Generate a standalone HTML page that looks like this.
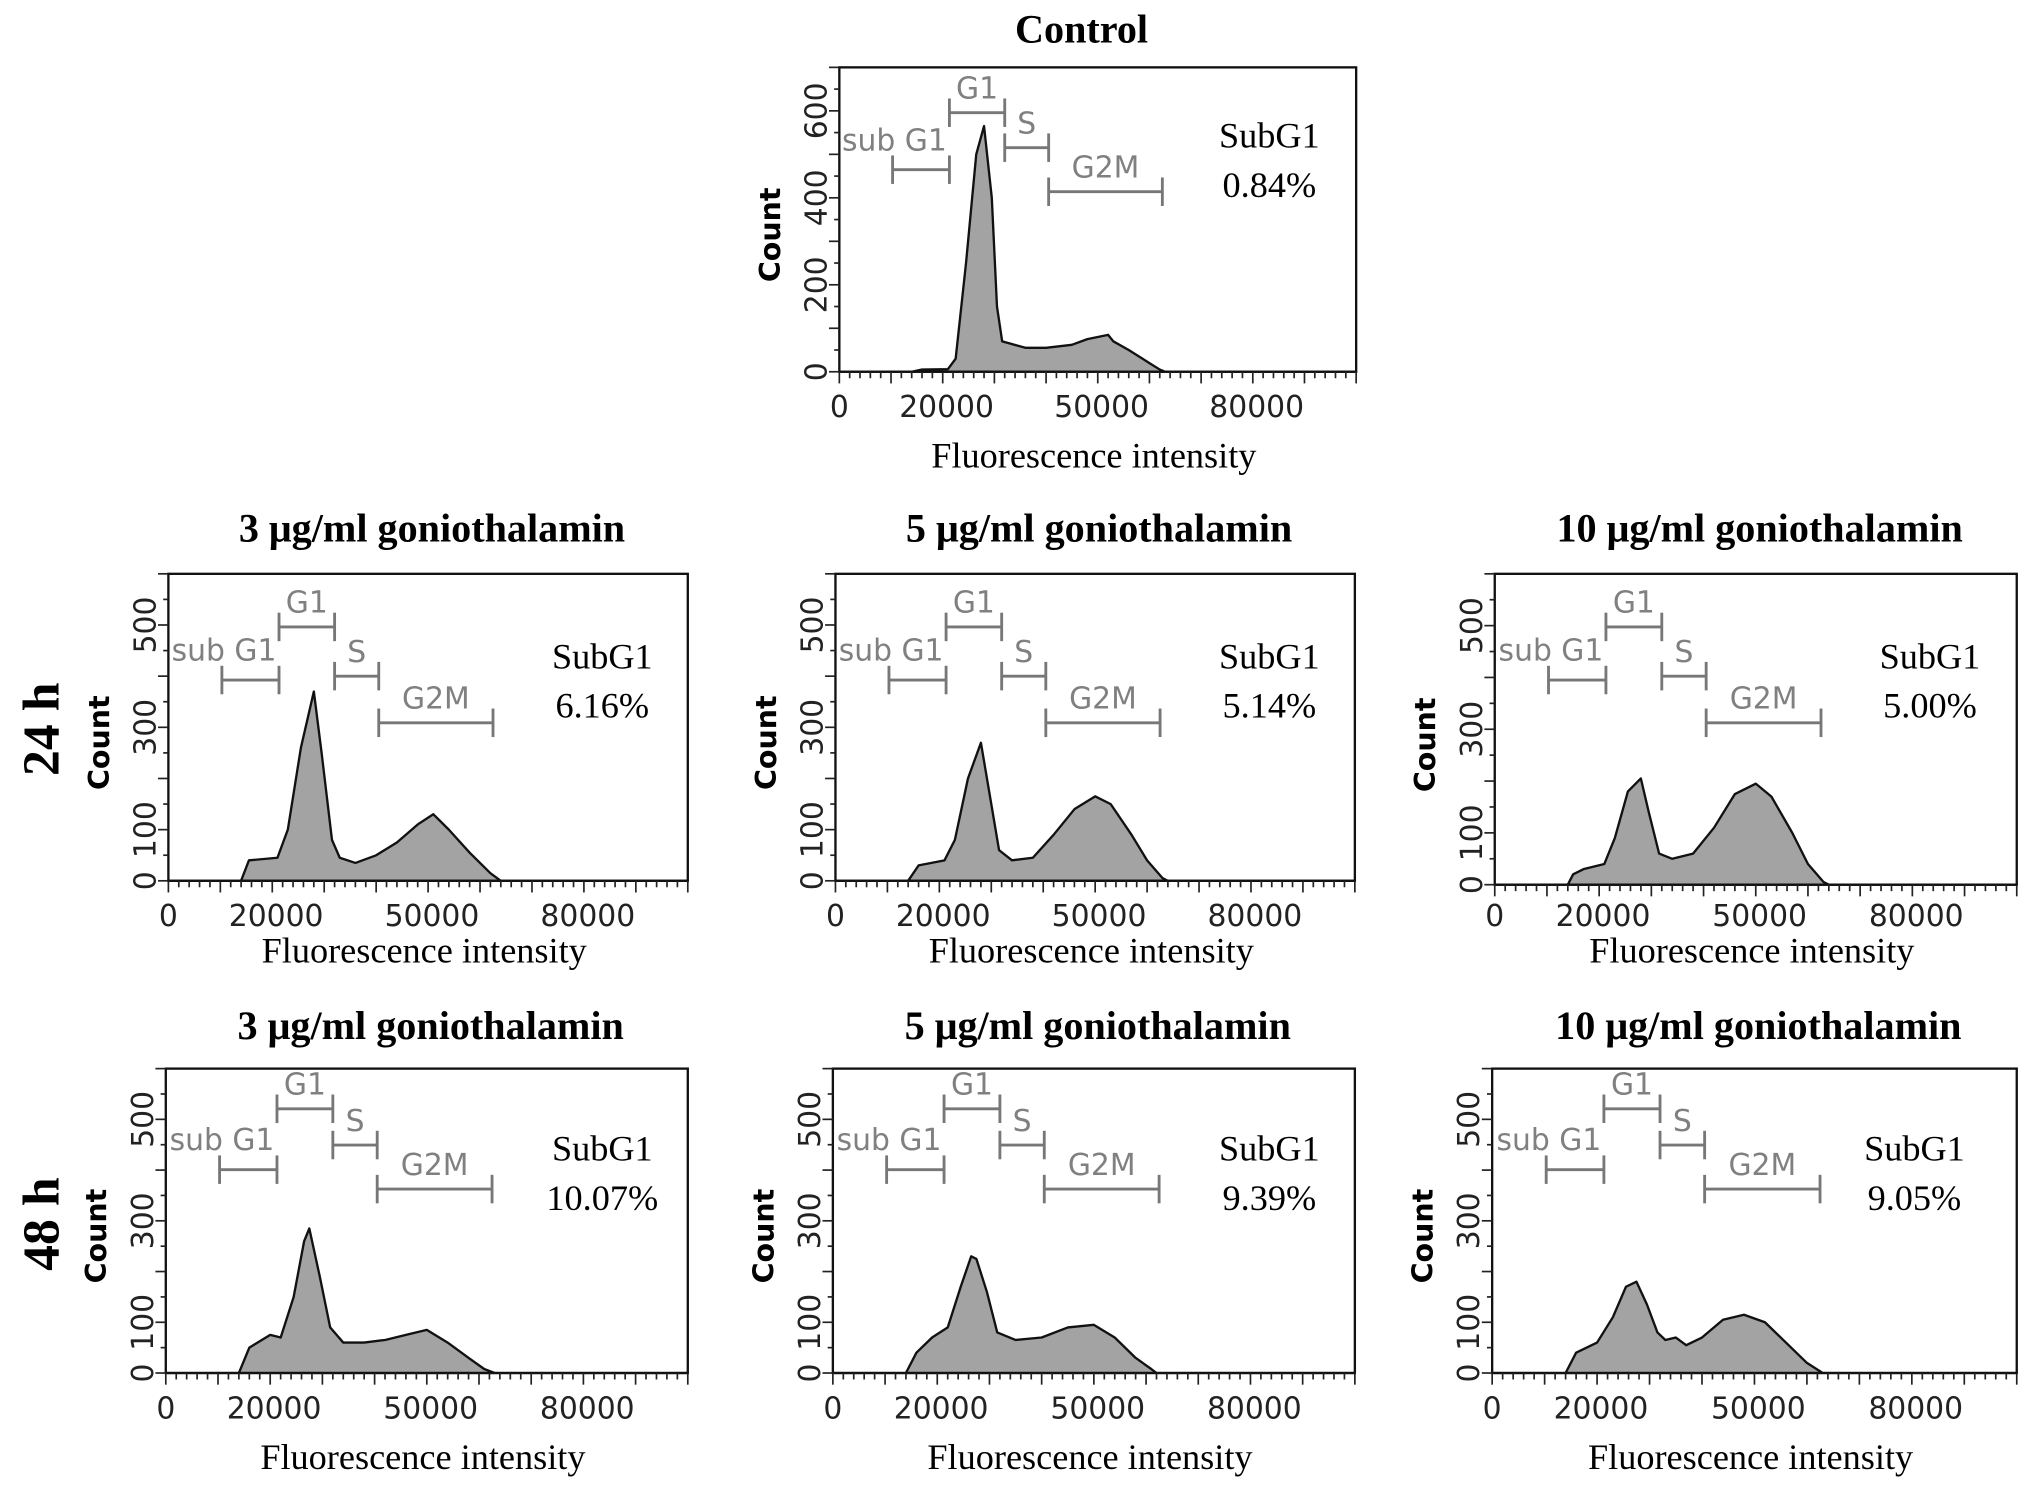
<!DOCTYPE html>
<html><head><meta charset="utf-8"><style>
html,body{margin:0;padding:0;background:#fff;}
svg{display:block;}
.ser{font-family:"Liberation Serif",serif;}
.san{font-family:"DejaVu Sans","Liberation Sans",sans-serif;}
</style></head><body>
<svg id="fig" width="2031" height="1494" viewBox="0 0 1568 1153.4" xmlns="http://www.w3.org/2000/svg">
<text class="ser" x="835" y="33" font-size="31" font-weight="bold" text-anchor="middle">Control</text>
<text class="ser" x="45" y="563" font-size="40" font-weight="bold" text-anchor="middle" transform="rotate(-90 45 563)">24 h</text>
<text class="ser" x="45" y="945" font-size="40" font-weight="bold" text-anchor="middle" transform="rotate(-90 45 945)">48 h</text>
</svg>
<script>
// ---- data (x in thousands of fluorescence units, y counts) ----
const panelTitles = ["", "3 μg/ml goniothalamin", "5 μg/ml goniothalamin", "10 μg/ml goniothalamin", "3 μg/ml goniothalamin", "5 μg/ml goniothalamin", "10 μg/ml goniothalamin"];
const subG1Values = ["0.84%", "6.16%", "5.14%", "5.00%", "10.07%", "9.39%", "9.05%"];
const xTickLabels = [0, 20000, 50000, 80000];
const yTicksControl = [0, 200, 400, 600];
const yTicksRows = [0, 100, 300, 500];
const gateNames = ["sub G1", "G1", "S", "G2M"];
const gateStarts = [10.3, 21.3, 32.0, 40.5];
const gateEnds = [21.3, 32.0, 40.5, 62.5];
const xs0 = [0,14,16,21,22.5,24.5,26.5,28,29.5,30.5,31.5,33,36,40,45,48,52,53,56,60,62,63,100];
const ys0 = [0,0,5,6,30,250,500,565,400,150,70,65,55,55,62,75,85,70,50,20,5,0,0];
const xs1 = [0,14,15.5,21,23,25.5,28,29.5,31.5,33,36,40,44,48,51,54,58,62,64,100];
const ys1 = [0,0,40,45,100,260,370,250,80,45,35,50,75,110,130,100,55,15,0,0];
const xs2 = [0,14,16,21,23,25.5,28,29.5,31.5,34,38,42,46,50,53,57,60,63,64,100];
const ys2 = [0,0,30,40,80,200,270,180,60,40,45,90,140,165,150,90,40,5,0,0];
const xs3 = [0,14,15,17,21,23,25.5,28,29.5,31.5,34,38,42,46,50,53,57,60,63,64,100];
const ys3 = [0,0,20,30,40,90,180,205,140,60,50,60,110,175,195,170,100,40,5,0,0];
const xs4 = [0,14,16,20,22,24.5,26.5,27.5,29.5,31.5,34,38,42,46,50,54,58,61,63,100];
const ys4 = [0,0,50,75,70,150,260,285,190,90,60,60,65,75,85,60,30,8,0,0];
const xs5 = [0,14,16,19,22,24.5,26.5,27.5,29.5,31.5,35,40,45,50,54,58,61,62,100];
const ys5 = [0,0,40,70,90,170,230,225,160,80,65,70,90,95,70,30,8,0,0];
const xs6 = [0,14,16,20,23,25.5,27.5,29.5,31.5,33,35,37,40,44,48,52,56,60,63,100];
const ys6 = [0,0,40,60,110,170,180,135,80,65,70,55,70,105,115,100,60,20,0,0];
const allXs = [xs0,xs1,xs2,xs3,xs4,xs5,xs6];
const allYs = [ys0,ys1,ys2,ys3,ys4,ys5,ys6];

// ---- layout ----
const frames = [
 {x:648,y:52,w:399,h:235,ymax:700,ticks:yTicksControl,gy:[79,35,62,96],title:0,sub:[980,114],lab:322,xl:361},
 {x:130,y:443,w:401,h:237,ymax:600,ticks:yTicksRows,gy:[82,41,79,115],title:418,sub:[465,516],lab:715,xl:743},
 {x:645,y:443,w:401,h:237,ymax:600,ticks:yTicksRows,gy:[82,41,79,115],title:418,sub:[980,516],lab:715,xl:743},
 {x:1154,y:443,w:403,h:240,ymax:600,ticks:yTicksRows,gy:[82,41,79,115],title:418,sub:[1490,516],lab:715,xl:743},
 {x:128,y:825,w:403,h:235,ymax:600,ticks:yTicksRows,gy:[78,31,59,93],title:802,sub:[465,896],lab:1095,xl:1134},
 {x:643,y:825,w:403,h:235,ymax:600,ticks:yTicksRows,gy:[78,31,59,93],title:802,sub:[980,896],lab:1095,xl:1134},
 {x:1152,y:825,w:405,h:235,ymax:600,ticks:yTicksRows,gy:[78,31,59,93],title:802,sub:[1478,896],lab:1095,xl:1134}
];
const NS="http://www.w3.org/2000/svg";
const svg=document.getElementById('fig');
function mk(tag,attrs,parent,text){const e=document.createElementNS(NS,tag);for(const k in attrs)e.setAttribute(k,attrs[k]);if(text!==undefined)e.textContent=text;(parent||svg).appendChild(e);return e;}

frames.forEach((f,i)=>{
  const g=mk('g',{});
  
  
  const sx=v=>f.x+v/100*f.w;
  const sy=c=>f.y+f.h-c/f.ymax*f.h;
  if(i>0){
    const t=mk('text',{x:f.x+f.w/2+3,y:f.title,'font-size':31,'font-weight':'bold','text-anchor':'middle','class':'ser'},g,panelTitles[i]);
    
    
  }
  const xs=allXs[i], ys=allYs[i];
  let d='M'+sx(xs[0])+','+sy(0);
  for(let k=0;k<xs.length;k++) d+=' L'+sx(xs[k]).toFixed(1)+','+sy(ys[k]).toFixed(1);
  d+=' L'+sx(xs[xs.length-1])+','+sy(0)+' Z';
  const p=mk('path',{d:d,fill:'#a3a3a3',stroke:'#111','stroke-width':1.8,'stroke-linejoin':'round'},g);
  
  
  const r=mk('rect',{x:f.x,y:f.y,width:f.w,height:f.h,fill:'none',stroke:'#111','stroke-width':1.8},g);
  
  
  for(let v=0;v<=100;v+=2){
    const maj=v%10===0;
    mk('line',{x1:sx(v),x2:sx(v),y1:f.y+f.h,y2:f.y+f.h+(maj?9:5),stroke:'#222','stroke-width':1.3},g);
  }
  xTickLabels.forEach(v=>{
    const t=mk('text',{x:sx(v/1000)+(v?3:0),y:f.lab,'font-size':23,'text-anchor':'middle','class':'san',fill:'#222'},g,String(v));
    
    
  });
  const xl=mk('text',{x:f.x+f.w/2-3,y:f.xl,'font-size':28,'text-anchor':'middle','class':'ser'},g,'Fluorescence intensity');
  
  
  for(let c=0;c<=f.ymax;c+=50){
    const maj=c%100===0;
    mk('line',{x1:f.x,x2:f.x-(maj?8:4),y1:sy(c),y2:sy(c),stroke:'#222','stroke-width':1.3},g);
  }
  f.ticks.forEach(c=>{
    const yy=sy(c), xx=f.x-10;
    const t=mk('text',{x:xx,y:yy,'font-size':23,'text-anchor':'middle','class':'san',fill:'#222',transform:'rotate(-90 '+xx+' '+yy+')'},g,String(c));
    
    
  });
  const cx=f.x-46, cy=f.y+f.h*0.55;
  const yl=mk('text',{x:cx,y:cy,'font-size':22,'font-weight':'bold','text-anchor':'middle','class':'san',transform:'rotate(-90 '+cx+' '+cy+')'},g,'Count');
  
  
  gateNames.forEach((nm,k)=>{
    const x1=sx(gateStarts[k]), x2=sx(gateEnds[k]), yy=f.y+f.gy[k];
    const col='#777';
    mk('line',{x1:x1,x2:x2,y1:yy,y2:yy,stroke:col,'stroke-width':2.2},g);
    mk('line',{x1:x1,x2:x1,y1:yy-11,y2:yy+11,stroke:col,'stroke-width':2.2},g);
    mk('line',{x1:x2,x2:x2,y1:yy-11,y2:yy+11,stroke:col,'stroke-width':2.2},g);
    let lx=(x1+x2)/2, anchor='middle';
    if(k===0){lx=x2-2;anchor='end';}
    const t=mk('text',{x:lx,y:yy-(k===0?15:11),'font-size':23,'text-anchor':anchor,'class':'san',fill:'#808080'},g,nm);
    
    
  });
  const s1=mk('text',{x:f.sub[0],y:f.sub[1],'font-size':28,'text-anchor':'middle','class':'ser'},g,'SubG1');
  
  
  const s2=mk('text',{x:f.sub[0],y:f.sub[1]+38,'font-size':28,'text-anchor':'middle','class':'ser'},g,subG1Values[i]);
  
  
});
</script>
</body></html>
